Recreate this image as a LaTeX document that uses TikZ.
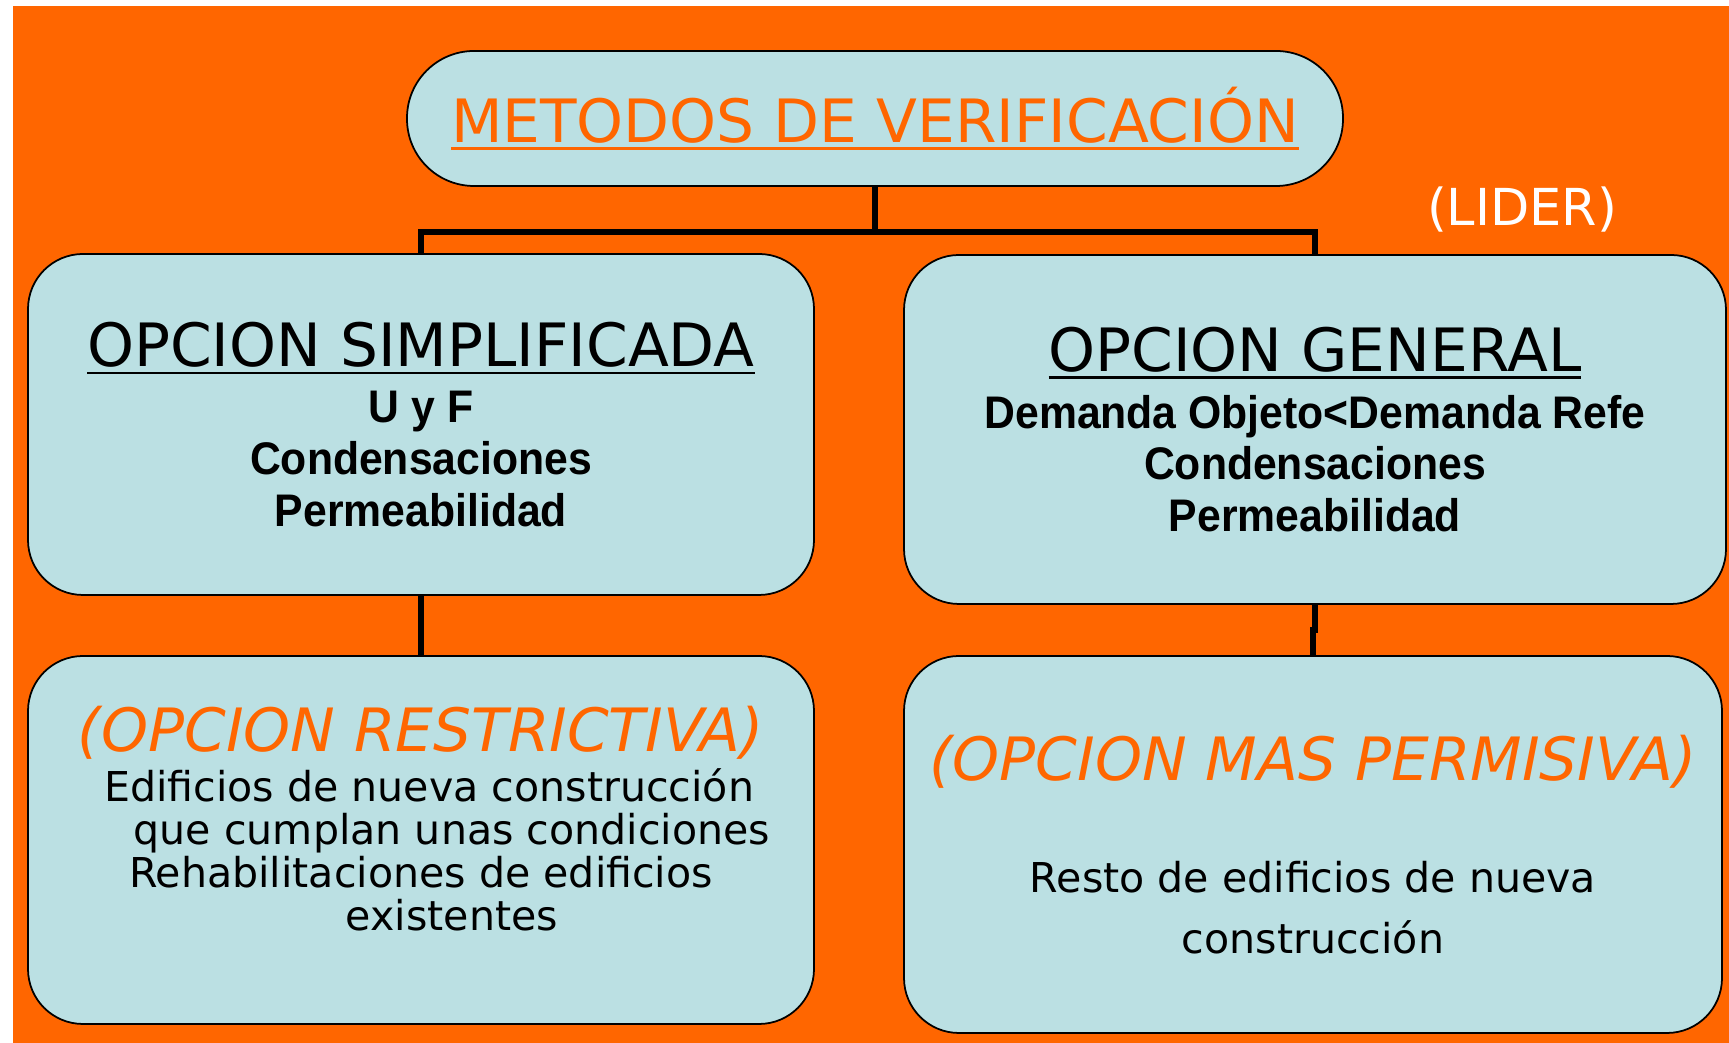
\documentclass[tikz,border=0pt]{standalone}
\usepackage{fontspec}
\setmainfont{DejaVu Sans}
\newfontfamily\boldfnt{Liberation Sans}[FakeStretch=0.935]
\usetikzlibrary{positioning,calc}
\definecolor{SlideOrange}{HTML}{FF6600}
\definecolor{BoxIce}{HTML}{BBE0E3}
\newsavebox{\undlbox}
\newcommand{\undl}[1]{\sbox{\undlbox}{#1}\rlap{\rule[-2.2pt]{\wd\undlbox}{0.8pt}}\usebox{\undlbox}}
\newcommand{\headfnt}{\normalfont\fontsize{17}{20}\selectfont}
\newcommand{\boldln}{\boldfnt\bfseries\fontsize{13}{14.7}\selectfont}
\tikzset{
    block/.style = {draw, rectangle, rounded corners=5.5mm,
        fill=BoxIce, line width=0.5pt, inner sep=0pt, align=center},
    pill/.style = {block, rounded corners=6.7mm},
    conn/.style = {draw, line width=1.6pt}
}

\begin{document}
\begin{tikzpicture}
    \useasboundingbox (0,0) rectangle (17.29,10.43);
    \fill[white] (0,0) rectangle (17.29,10.43);
    \fill[SlideOrange] (0.13,0) rectangle (17.29,10.37);
    % title and the two options
    \node[pill, minimum width=9.36cm, minimum height=1.35cm, text=SlideOrange, font=\headfnt] (title) at (8.75,9.245) {\undl{METODOS DE VERIFICACIÓN}};
    \node[text=white, font=\normalfont\fontsize{14.5}{16}\selectfont] (lider) at (15.22,8.33) {(LIDER)};
    \node[block, minimum width=7.86cm, minimum height=3.41cm, font=\boldln] (simp) at (4.21,6.185)
        {{\headfnt\undl{OPCION SIMPLIFICADA}}\\[1.3pt] U y F\\ Condensaciones\\ Permeabilidad};
    \node[block, minimum width=8.22cm, minimum height=3.49cm, font=\boldln] (gen) at (13.15,6.135)
        {{\headfnt\undl{OPCION GENERAL}}\\[1.5pt] Demanda Objeto<Demanda Refe\\ Condensaciones\\ Permeabilidad};
    % lower boxes
    \node[block, minimum width=7.86cm, minimum height=3.68cm, font=\fontsize{11.7}{12.3}\selectfont] (restr) at (4.21,2.03)
        {{\headfnt\itshape\color{SlideOrange}(OPCION RESTRICTIVA)}\\[1.9pt]
         \hspace*{4.6pt}Edificios de nueva construcción\\
         \hspace*{17.6pt}que cumplan unas condiciones\\
         Rehabilitaciones de edificios\\
         \hspace*{17.6pt}existentes\\ \mbox{}};
    \node[block, minimum width=8.18cm, minimum height=3.77cm, font=\fontsize{11.7}{17.4}\selectfont] (perm) at (13.13,1.985)
        {{\headfnt\itshape\color{SlideOrange}(OPCION MAS PERMISIVA)}\\[14.6pt]
         Resto de edificios de nueva\\ construcción};
    % connectors
    \draw[conn] (title.south) -- ++(0,-0.45) coordinate (split) -| (simp.north);
    \draw[conn] (split) -| (gen.north);
    \draw[conn] (simp.south) -- (restr.north);
    \draw[conn] (gen.south) -- ++(0,-0.25) -| (perm.north);
\end{tikzpicture}
\end{document}
